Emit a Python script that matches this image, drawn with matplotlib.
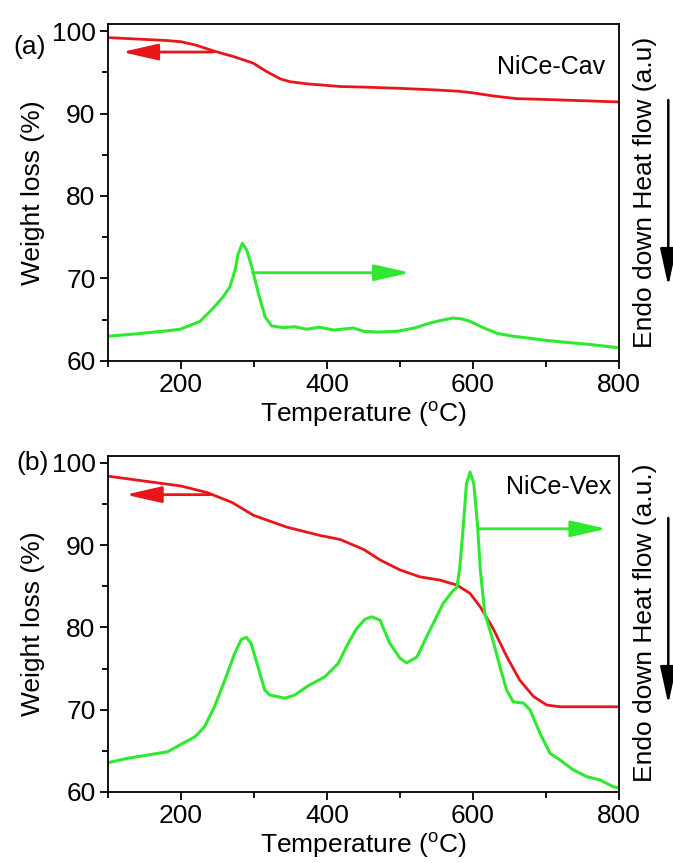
import matplotlib
matplotlib.use("Agg")
import matplotlib.pyplot as plt
from matplotlib.patches import FancyArrowPatch
from matplotlib.ticker import MultipleLocator

plt.rcParams['font.family'] = ['Liberation Sans', 'DejaVu Sans']
plt.rcParams['mathtext.fontset'] = 'custom'
plt.rcParams['mathtext.rm'] = 'Liberation Sans'

# ---- data ----
# (a) NiCe-Cav
tga_a_t = [100, 180, 200, 220, 244, 272, 299, 317, 336, 349, 372, 418, 450, 500,
           550, 580, 600, 630, 660, 700, 750, 800]
tga_a_w = [99.2, 98.85, 98.7, 98.3, 97.6, 96.9, 96.1, 95.1, 94.2, 93.86, 93.6, 93.27,
           93.2, 93.05, 92.85, 92.7, 92.5, 92.1, 91.8, 91.7, 91.55, 91.4]
dsc_a_t = [100, 140, 180, 199, 226, 244, 258, 267, 274, 278.5, 284, 290, 297, 306,
           315, 324, 340, 356, 372, 390, 409, 436, 450, 470, 496, 520, 541, 560,
           573, 585, 596, 615, 633, 655, 678, 700, 723, 760, 800]
dsc_a_h = [63.0, 63.3, 63.65, 63.85, 64.8, 66.4, 67.8, 69.0, 71.0, 73.05, 74.26,
           73.45, 71.4, 68.2, 65.4, 64.25, 64.05, 64.15, 63.85, 64.1, 63.75, 64.0,
           63.6, 63.5, 63.6, 64.0, 64.6, 65.0, 65.2, 65.1, 64.8, 64.0, 63.35, 63.0,
           62.75, 62.5, 62.3, 62.0, 61.6]

# (b) NiCe-Vex
tga_b_t = [100, 150, 200, 236, 270, 299, 345, 390, 418, 450, 473, 500, 527, 555,
           578, 596, 610, 628, 646, 664, 683, 701, 719, 800]
tga_b_w = [98.4, 97.8, 97.2, 96.4, 95.2, 93.65, 92.2, 91.2, 90.7, 89.5, 88.2, 87.0,
           86.16, 85.76, 85.15, 84.14, 82.5, 79.8, 76.5, 73.6, 71.6, 70.57, 70.36,
           70.36]
dsc_b_t = [100, 127, 155, 182, 200, 219, 232, 246, 260, 273.5, 282.6, 289.5, 296,
           305.5, 314.6, 321.5, 342, 356, 374, 397, 415, 429, 440, 452, 461, 472.6,
           486, 500, 509, 523, 541, 559, 571, 578, 582, 587, 591, 596, 601, 606, 610,
           616, 628, 637, 646, 655, 669, 678, 692, 705.5, 719, 737, 756, 774, 792,
           800]
dsc_b_h = [63.56, 64.1, 64.5, 64.9, 65.8, 66.7, 67.9, 70.4, 73.6, 76.85, 78.55, 78.8,
           78.07, 75.2, 72.4, 71.8, 71.4, 71.8, 72.9, 74.0, 75.6, 78.07, 79.8, 81.0,
           81.3, 80.9, 78.07, 76.25, 75.7, 76.4, 79.7, 82.9, 84.3, 84.9, 87.4, 92.65,
           97.5, 98.9, 97.5, 92.65, 87.0, 81.8, 78.2, 75.2, 72.4, 70.97, 70.8, 70.0,
           67.1, 64.7, 63.9, 62.7, 61.86, 61.46, 60.64, 60.5]

RED = '#e8161b'
GREEN = '#2eea2e'
FS = 19

fig = plt.figure(figsize=(6.73, 8.63), dpi=100)
fig.patch.set_facecolor('white')

panels = [
    dict(rect=[0.1605, 0.5817, 0.7593, 0.3905], t1=tga_a_t, w=tga_a_w, t2=dsc_a_t, h=dsc_a_h,
         name='NiCe-Cav', name_xy=(0.973, 0.872), tag='(a)', tag_xy=(0.020, 0.946),
         rlabel='Endo down Heat flow (a.u)', rl_y=0.777,
         red_arrow=((244, 97.45), (119, 97.45)), green_arrow=((298, 70.7), (514, 70.7)),
         down_arrow=(1 - 100 / 863, 1 - 286 / 863)),
    dict(rect=[0.1605, 0.0823, 0.7593, 0.3893], t1=tga_b_t, w=tga_b_w, t2=dsc_b_t, h=dsc_b_h,
         name='NiCe-Vex', name_xy=(0.986, 0.908), tag='(b)', tag_xy=(0.024, 0.4635),
         rlabel='Endo down Heat flow (a.u.)', rl_y=0.278,
         red_arrow=((240, 96.15), (124, 96.15)), green_arrow=((609, 92.0), (783, 92.0)),
         down_arrow=(1 - 518 / 863, 1 - 704 / 863)),
]

head = '-|>,head_length=2.2,head_width=0.5'

for p in panels:
    ax = fig.add_axes(p['rect'])
    ax.plot(p['t1'], p['w'], color=RED, lw=2.0, solid_joinstyle='round')
    ax.plot(p['t2'], p['h'], color=GREEN, lw=2.2, solid_joinstyle='round')
    ax.set_xlim(100, 800)
    ax.set_ylim(60, 100.85)
    ax.xaxis.set_major_locator(MultipleLocator(200))
    ax.xaxis.set_minor_locator(MultipleLocator(100))
    ax.yaxis.set_major_locator(MultipleLocator(10))
    ax.yaxis.set_minor_locator(MultipleLocator(5))
    ax.tick_params(which='both', direction='out', top=False, right=False,
                   labelsize=FS, width=1.3, pad=3)
    ax.tick_params(which='major', length=6)
    ax.tick_params(which='minor', length=4)
    for s in ax.spines.values():
        s.set_linewidth(1.3)
    ax.set_xlabel(r'Temperature ($^{\rm o}$C)', fontsize=FS, labelpad=1)
    ax.set_ylabel('Weight loss (%)', fontsize=FS, labelpad=5)

    ax.annotate('', xy=p['red_arrow'][1], xytext=p['red_arrow'][0],
                arrowprops=dict(arrowstyle=head, color=RED, lw=2.0,
                                shrinkA=0, shrinkB=0, mutation_scale=10))
    ax.annotate('', xy=p['green_arrow'][1], xytext=p['green_arrow'][0],
                arrowprops=dict(arrowstyle=head, color=GREEN, lw=2.0,
                                shrinkA=0, shrinkB=0, mutation_scale=10))
    ax.text(*p['name_xy'], p['name'], transform=ax.transAxes, ha='right', va='center',
            fontsize=18)

    fig.text(*p['tag_xy'], p['tag'], fontsize=FS, ha='left', va='center')
    fig.text(0.958, p['rl_y'], p['rlabel'], rotation=90, fontsize=FS,
             ha='center', va='center')
    y0, y1 = p['down_arrow']
    fig.add_artist(FancyArrowPatch(
        (0.993, y0), (0.993, y1), transform=fig.transFigure,
        arrowstyle='-|>,head_length=2.3,head_width=0.5', mutation_scale=10,
        color='black', lw=1.8, shrinkA=0, shrinkB=0))

fig.savefig('out.png', dpi=100)
